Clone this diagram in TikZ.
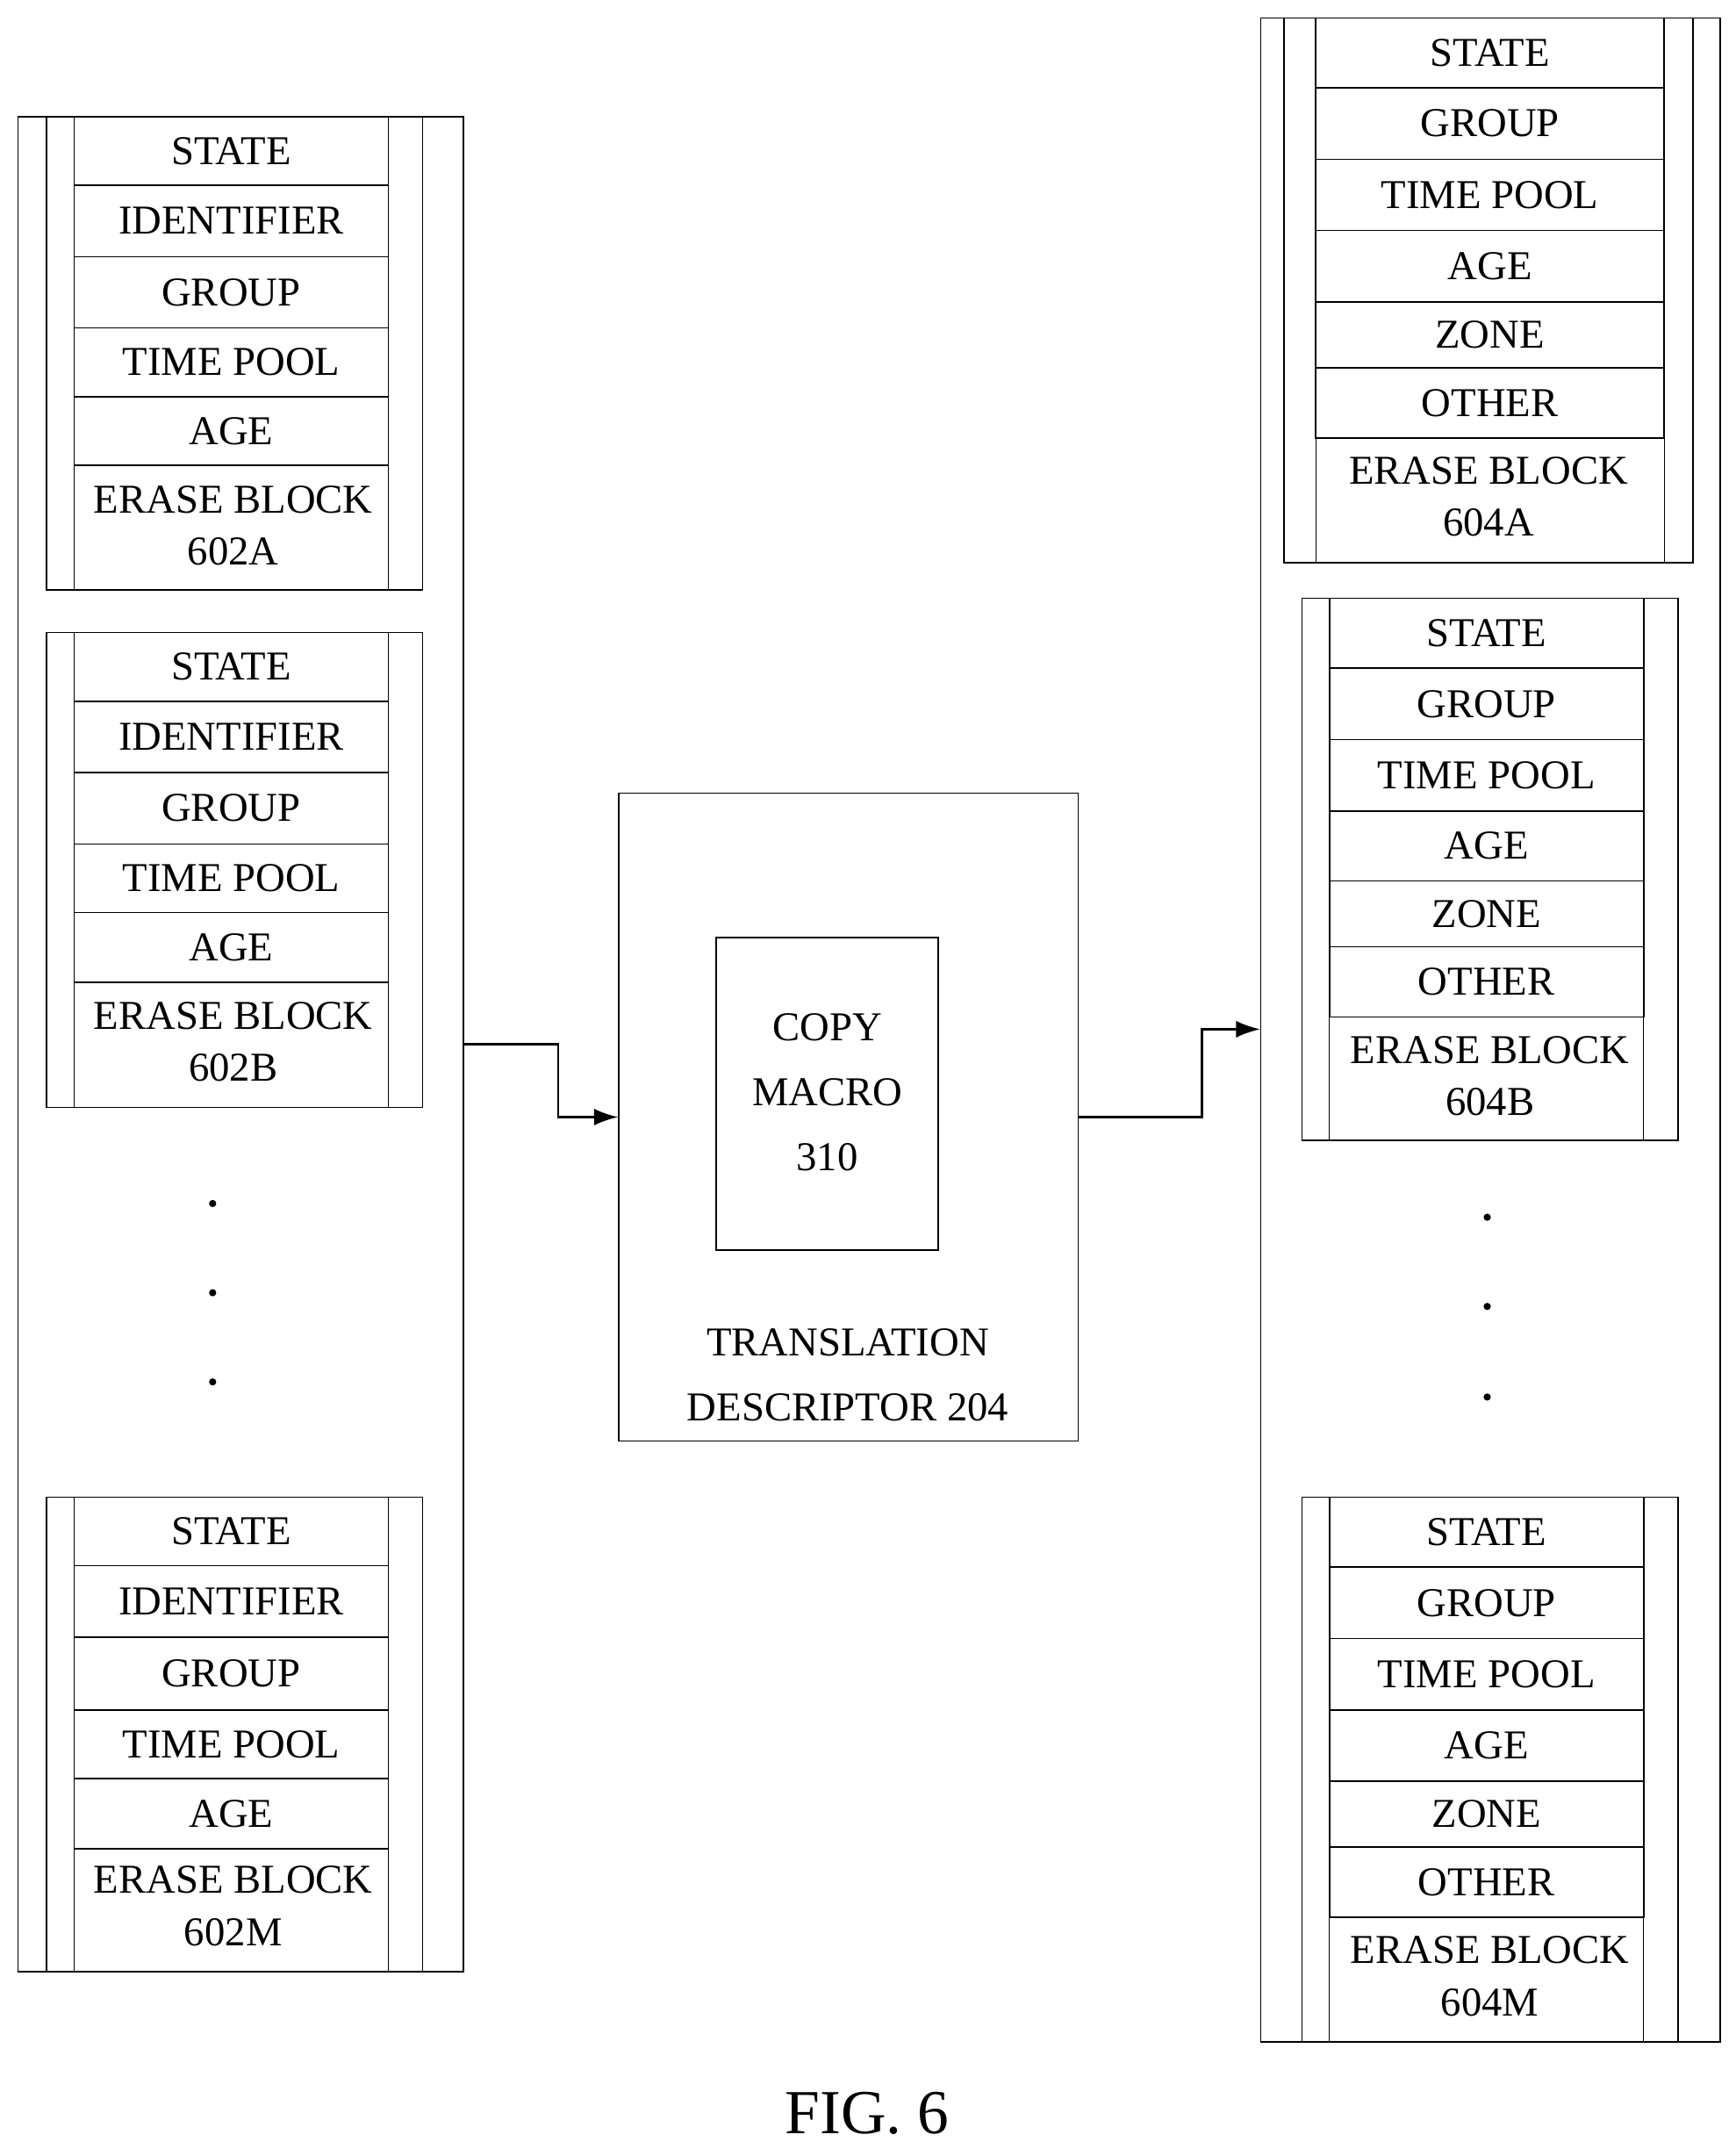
\documentclass[tikz,border=0pt]{standalone}
\usepackage{fontspec}
\setmainfont{Liberation Serif}
\usetikzlibrary{arrows.meta}

\tikzset{
  box/.style={draw, line width=0.6pt, inner sep=0pt},
  lbl/.style={font=\fontsize{17}{20}\selectfont, inner sep=0pt},
  dot/.style={circle, fill, inner sep=0pt, minimum size=3pt},
  link/.style={-{Latex[length=10pt,width=7pt]}, line width=0.9pt}
}

% \eblock{name}{x0}{x1}{cx0}{cx1}{y0}{y1}{rows}{labels}
\newcommand{\eblock}[9]{%
  \node[box, minimum width={(#3-#2)*0.02cm}, minimum height={(#7-#6)*0.02cm}] (#1) at ({(#2+#3)/2},{-(#6+#7)/2}) {};
  \draw (#4,-#6) -- (#4,-#7) (#5,-#6) -- (#5,-#7);
  \foreach \ya/\yb/\txt [count=\i] in {#8} {
    \node[box, minimum width={(#5-#4)*0.02cm}, minimum height={(\yb-\ya)*0.02cm}] (#1-\i) at ({(#4+#5)/2},{-(\ya+\yb)/2}) {};
    \node[lbl] at (#1-\i) {\txt};
  }
  #9
}

\begin{document}
\begin{tikzpicture}[x=0.02cm, y=0.02cm]
\useasboundingbox (0,0) rectangle (1265,-1566);

% source side
\node[box, minimum width=6.5cm, minimum height=27.04cm] (src) at (175.5,-761) {};
\eblock{a}{34}{308}{54}{283}{85}{430}{85/135/STATE,135/187/IDENTIFIER,187/239/GROUP,239/289/TIME POOL,289/339/AGE}{%
  \node[lbl] (a-name) at (170,-364) {ERASE BLOCK}; \node[lbl] (a-num) at (170,-402) {602A};}
\eblock{b}{34}{308}{54}{283}{461}{807}{461/511/STATE,511/563/IDENTIFIER,563/615/GROUP,615/665/TIME POOL,665/716/AGE}{%
  \node[lbl] (b-name) at (170,-740) {ERASE BLOCK}; \node[lbl] (b-num) at (170,-778) {602B};}
\eblock{m}{34}{308}{54}{283}{1091}{1437}{1091/1141/STATE,1141/1193/IDENTIFIER,1193/1246/GROUP,1246/1296/TIME POOL,1296/1347/AGE}{%
  \node[lbl] (m-name) at (170,-1370) {ERASE BLOCK}; \node[lbl] (m-num) at (170,-1408) {602M};}
\foreach \y [count=\i] in {877,942,1007}
  \node[dot] (sdot\i) at (155,-\y) {};

% translation descriptor
\node[box, minimum width=6.7cm, minimum height=9.44cm] (td) at (618.5,-814) {};
\node[box, minimum width=3.24cm, minimum height=4.56cm] (cm) at (603,-797) {};
\node[lbl, align=center] (cm-txt) at (603,-796) {COPY\\[7pt]MACRO\\[7pt]310};
\node[lbl, align=center] (td-txt) at (618,-1002) {TRANSLATION\\[7pt]DESCRIPTOR 204};

% destination side
\node[box, minimum width=6.7cm, minimum height=29.5cm] (dst) at (1086.5,-750.5) {};
\eblock{p}{936}{1234}{959}{1213}{13}{410}{13/64/STATE,64/116/GROUP,116/168/TIME POOL,168/220/AGE,220/268/ZONE,268/319/OTHER}{%
  \node[lbl] (p-name) at (1085,-343) {ERASE BLOCK}; \node[lbl] (p-num) at (1085,-381) {604A};}
\eblock{q}{949}{1223}{969}{1198}{436}{831}{436/487/STATE,487/539/GROUP,539/591/TIME POOL,591/642/AGE,642/690/ZONE,690/741/OTHER}{%
  \node[lbl] (q-name) at (1086,-765) {ERASE BLOCK}; \node[lbl] (q-num) at (1086,-803) {604B};}
\eblock{r}{949}{1223}{969}{1198}{1091}{1488}{1091/1142/STATE,1142/1194/GROUP,1194/1246/TIME POOL,1246/1298/AGE,1298/1346/ZONE,1346/1397/OTHER}{%
  \node[lbl] (r-name) at (1086,-1421) {ERASE BLOCK}; \node[lbl] (r-num) at (1086,-1459) {604M};}
\foreach \y [count=\i] in {887,952,1018}
  \node[dot] (ddot\i) at (1084,-\y) {};

% connectors
\coordinate (in1) at (src.east |- 0,-761);
\coordinate (out1) at (dst.west |- 0,-750);
\draw[link] (in1) -- (407,-761) -- (407,-814) -- (td.west);
\draw[link] (td.east) -- (876,-814) -- (876,-750) -- (out1);

\node[font=\fontsize{26}{30}\selectfont, inner sep=0pt] (fig) at (632,-1540) {FIG. 6};
\end{tikzpicture}
\end{document}
